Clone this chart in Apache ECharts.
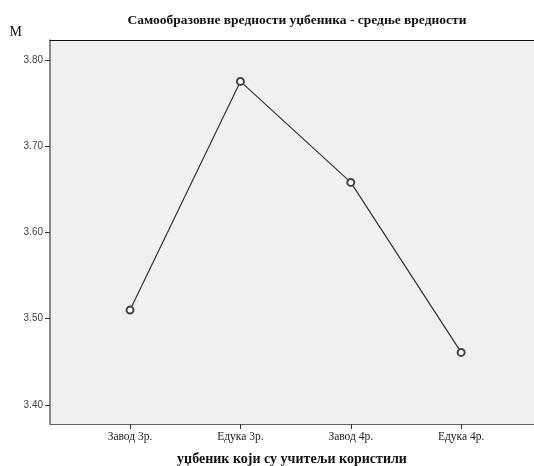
<!DOCTYPE html>
<html>
<head>
<meta charset="utf-8">
<script src="https://cdn.jsdelivr.net/npm/echarts@6/dist/echarts.min.js"></script>
<style>html,body{margin:0;padding:0;background:#fff}#c{width:534px;height:466px}</style>
</head>
<body>
<div id="c"></div>
<script>
const categories = ['Завод 3р.', 'Едука 3р.', 'Завод 4р.', 'Едука 4р.'];
const meanValues = [3.510, 3.775, 3.658, 3.461];
const yTicks = [3.40, 3.50, 3.60, 3.70, 3.80];
const titleText = 'Самообразовне вредности уџбеника - средње вредности';
const xName = 'уџбеник који су учитељи користили';
const yName = 'M';

const positions = categories.map((c, i) => i + 1);
const data = meanValues.map((v, i) => [positions[i], v]);

const chart = echarts.init(document.getElementById('c'));
chart.setOption({
  animation: false,
  backgroundColor: '#ffffff',
  title: {
    text: titleText,
    left: 292, top: 9, textAlign: 'center',
    textStyle: { fontFamily: 'Liberation Serif', fontSize: 13.5, fontWeight: 'bold', color: '#111' }
  },
  grid: { left: 50, right: 0, top: 40, bottom: 42, show: true, backgroundColor: '#f0f0f0', borderWidth: 0,
    containLabel: false, outerBoundsMode: 'none' },
  xAxis: [{
    type: 'value', min: 0.275, max: 4.66,
    name: xName, nameLocation: 'middle', nameGap: 28,
    nameTextStyle: { fontFamily: 'Liberation Serif', fontSize: 14, fontWeight: 'bold', color: '#111' },
    axisLine: { show: true, lineStyle: { color: '#666', width: 1 } },
    axisTick: { show: true, customValues: positions, length: 5, lineStyle: { color: '#333' } },
    axisLabel: { customValues: positions, margin: 7, fontFamily: 'Liberation Serif', fontSize: 11.5, color: '#222',
      formatter: v => categories[Math.round(v) - 1] || '' },
    splitLine: { show: false }
  }, {
    type: 'value', position: 'top', min: 0.275, max: 4.66,
    axisLine: { show: true, lineStyle: { color: '#111', width: 1 } },
    axisTick: { show: false }, axisLabel: { show: false }, splitLine: { show: false }
  }],
  yAxis: {
    type: 'value', min: 3.378, max: 3.823,
    name: yName, nameLocation: 'end', nameGap: 1,
    nameTextStyle: { fontFamily: 'Liberation Serif', fontSize: 14, color: '#111', align: 'right', padding: [0, 28, 0, 0] },
    axisLine: { show: true, lineStyle: { color: '#666', width: 1.5 } },
    axisTick: { show: true, customValues: yTicks, length: 5, lineStyle: { color: '#333' } },
    axisLabel: { customValues: yTicks, margin: 7, fontFamily: 'Liberation Sans', fontSize: 10, color: '#444',
      formatter: v => v.toFixed(2) },
    splitLine: { show: false }
  },
  series: [{
    type: 'line', data: data,
    symbol: 'emptyCircle', symbolSize: 7,
    lineStyle: { color: '#333', width: 1.2 },
    itemStyle: { color: '#444', borderColor: '#444', borderWidth: 1 }
  }]
});
</script>
</body>
</html>
